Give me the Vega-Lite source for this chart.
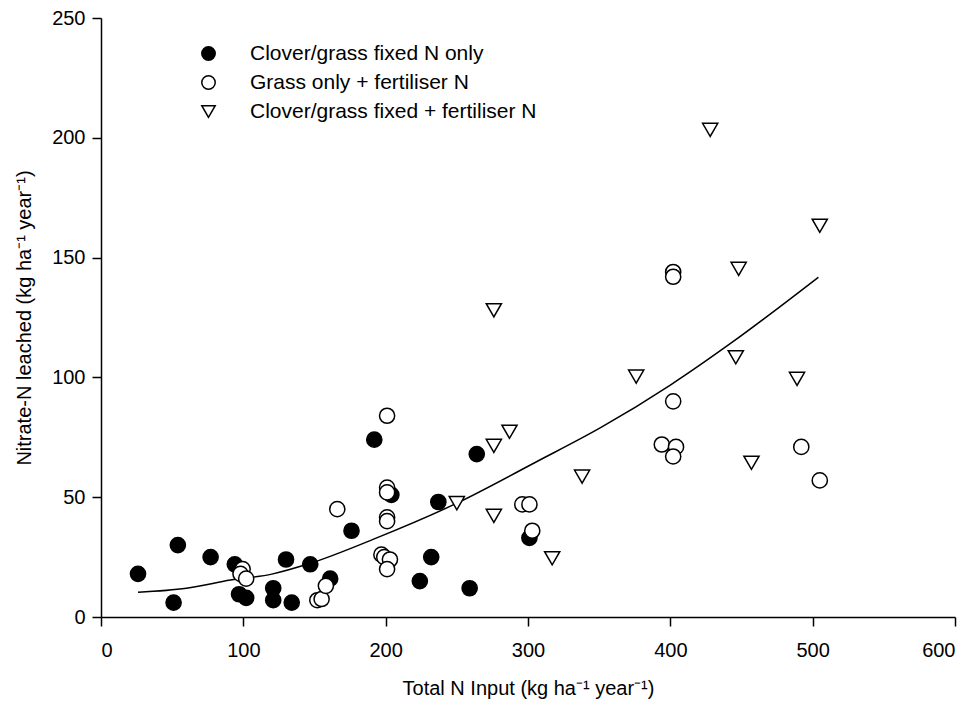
{
  "$schema": "https://vega.github.io/schema/vega-lite/v6.json",
  "width": 854,
  "height": 599,
  "autosize": "none",
  "padding": {"left": 101, "top": 18, "right": 21, "bottom": 88},
  "background": "white",
  "config": {
    "view": {"stroke": null},
    "font": "Liberation Sans",
    "axis": {
      "grid": false,
      "domainColor": "black",
      "domainWidth": 1.5,
      "tickColor": "black",
      "tickWidth": 1.5,
      "tickSize": 9,
      "labelFont": "Liberation Sans",
      "labelFontSize": 20,
      "labelColor": "black",
      "titleFont": "Liberation Sans",
      "titleFontSize": 20,
      "titleFontWeight": "normal",
      "titleColor": "black"
    },
    "legend": {
      "orient": "none",
      "legendX": 97,
      "legendY": 25,
      "padding": 0,
      "labelFont": "Liberation Sans",
      "labelFontSize": 21,
      "labelColor": "black",
      "labelOffset": 31,
      "rowPadding": 7,
      "symbolSize": 180,
      "symbolStrokeWidth": 1.5,
      "labelLimit": 500
    }
  },
  "datasets": {
    "points": [
      {"input": 26, "leached": 18, "group": "Clover/grass fixed N only"},
      {"input": 51, "leached": 6, "group": "Clover/grass fixed N only"},
      {"input": 54, "leached": 30, "group": "Clover/grass fixed N only"},
      {"input": 77, "leached": 25, "group": "Clover/grass fixed N only"},
      {"input": 94, "leached": 22, "group": "Clover/grass fixed N only"},
      {"input": 97, "leached": 9.5, "group": "Clover/grass fixed N only"},
      {"input": 102, "leached": 8, "group": "Clover/grass fixed N only"},
      {"input": 121, "leached": 12, "group": "Clover/grass fixed N only"},
      {"input": 121, "leached": 7, "group": "Clover/grass fixed N only"},
      {"input": 130, "leached": 24, "group": "Clover/grass fixed N only"},
      {"input": 134, "leached": 6, "group": "Clover/grass fixed N only"},
      {"input": 147, "leached": 22, "group": "Clover/grass fixed N only"},
      {"input": 161, "leached": 16, "group": "Clover/grass fixed N only"},
      {"input": 176, "leached": 36, "group": "Clover/grass fixed N only"},
      {"input": 192, "leached": 74, "group": "Clover/grass fixed N only"},
      {"input": 204, "leached": 51, "group": "Clover/grass fixed N only"},
      {"input": 224, "leached": 15, "group": "Clover/grass fixed N only"},
      {"input": 232, "leached": 25, "group": "Clover/grass fixed N only"},
      {"input": 237, "leached": 48, "group": "Clover/grass fixed N only"},
      {"input": 259, "leached": 12, "group": "Clover/grass fixed N only"},
      {"input": 264, "leached": 68, "group": "Clover/grass fixed N only"},
      {"input": 301, "leached": 33, "group": "Clover/grass fixed N only"},
      {"input": 99.5, "leached": 20, "group": "Grass only + fertiliser N"},
      {"input": 98, "leached": 18, "group": "Grass only + fertiliser N"},
      {"input": 102, "leached": 16, "group": "Grass only + fertiliser N"},
      {"input": 152, "leached": 7, "group": "Grass only + fertiliser N"},
      {"input": 155, "leached": 7.5, "group": "Grass only + fertiliser N"},
      {"input": 158, "leached": 13, "group": "Grass only + fertiliser N"},
      {"input": 166, "leached": 45, "group": "Grass only + fertiliser N"},
      {"input": 197, "leached": 26, "group": "Grass only + fertiliser N"},
      {"input": 199, "leached": 25, "group": "Grass only + fertiliser N"},
      {"input": 203, "leached": 24, "group": "Grass only + fertiliser N"},
      {"input": 201, "leached": 20, "group": "Grass only + fertiliser N"},
      {"input": 201, "leached": 41.6, "group": "Grass only + fertiliser N"},
      {"input": 201, "leached": 40, "group": "Grass only + fertiliser N"},
      {"input": 201, "leached": 54, "group": "Grass only + fertiliser N"},
      {"input": 201, "leached": 52, "group": "Grass only + fertiliser N"},
      {"input": 201, "leached": 84, "group": "Grass only + fertiliser N"},
      {"input": 296, "leached": 47, "group": "Grass only + fertiliser N"},
      {"input": 301, "leached": 47, "group": "Grass only + fertiliser N"},
      {"input": 303, "leached": 36, "group": "Grass only + fertiliser N"},
      {"input": 394, "leached": 72, "group": "Grass only + fertiliser N"},
      {"input": 404, "leached": 71, "group": "Grass only + fertiliser N"},
      {"input": 402, "leached": 67, "group": "Grass only + fertiliser N"},
      {"input": 402, "leached": 90, "group": "Grass only + fertiliser N"},
      {"input": 402, "leached": 144, "group": "Grass only + fertiliser N"},
      {"input": 402, "leached": 142, "group": "Grass only + fertiliser N"},
      {"input": 492, "leached": 71, "group": "Grass only + fertiliser N"},
      {"input": 505, "leached": 57, "group": "Grass only + fertiliser N"},
      {"input": 250, "leached": 47.5, "group": "Clover/grass fixed + fertiliser N"},
      {"input": 276, "leached": 128, "group": "Clover/grass fixed + fertiliser N"},
      {"input": 276, "leached": 71.4, "group": "Clover/grass fixed + fertiliser N"},
      {"input": 276, "leached": 42.2, "group": "Clover/grass fixed + fertiliser N"},
      {"input": 287, "leached": 77.3, "group": "Clover/grass fixed + fertiliser N"},
      {"input": 317, "leached": 24.5, "group": "Clover/grass fixed + fertiliser N"},
      {"input": 338, "leached": 58.6, "group": "Clover/grass fixed + fertiliser N"},
      {"input": 376, "leached": 100.3, "group": "Clover/grass fixed + fertiliser N"},
      {"input": 428, "leached": 203.3, "group": "Clover/grass fixed + fertiliser N"},
      {"input": 446, "leached": 108.4, "group": "Clover/grass fixed + fertiliser N"},
      {"input": 448, "leached": 145.3, "group": "Clover/grass fixed + fertiliser N"},
      {"input": 457, "leached": 64.4, "group": "Clover/grass fixed + fertiliser N"},
      {"input": 489, "leached": 99.4, "group": "Clover/grass fixed + fertiliser N"},
      {"input": 505, "leached": 163.3, "group": "Clover/grass fixed + fertiliser N"}
    ],
    "curve": [
      {"input": 26, "leached": 10.3},
      {"input": 60, "leached": 12.0},
      {"input": 91, "leached": 15.4},
      {"input": 120, "leached": 17.9},
      {"input": 147, "leached": 22.4},
      {"input": 192, "leached": 32.6},
      {"input": 250, "leached": 47.5},
      {"input": 306, "leached": 64.8},
      {"input": 351, "leached": 79},
      {"input": 400, "leached": 96.8},
      {"input": 444, "leached": 114.9},
      {"input": 504, "leached": 141.8}
    ]
  },
  "encoding": {
    "x": {
      "field": "input",
      "type": "quantitative",
      "scale": {"domain": [0, 600], "nice": false, "zero": true},
      "axis": {
        "title": "Total N Input (kg ha⁻¹ year⁻¹)",
        "values": [0, 100, 200, 300, 400, 500, 600],
        "labelPadding": 14,
        "titlePadding": 18
      }
    },
    "y": {
      "field": "leached",
      "type": "quantitative",
      "scale": {"domain": [0, 250], "nice": false},
      "axis": {
        "title": "Nitrate-N leached (kg ha⁻¹ year⁻¹)",
        "values": [0, 50, 100, 150, 200, 250],
        "labelPadding": 7,
        "titlePadding": 17
      }
    }
  },
  "layer": [
    {
      "data": {"name": "curve"},
      "mark": {"type": "line", "interpolate": "monotone", "color": "black", "strokeWidth": 1.5},
      "encoding": {}
    },
    {
      "data": {"name": "points"},
      "mark": {"type": "point", "strokeWidth": 1.5, "size": 230, "opacity": 1},
      "encoding": {
        "shape": {
          "field": "group",
          "type": "nominal",
          "sort": null,
          "scale": {
            "domain": ["Clover/grass fixed N only", "Grass only + fertiliser N", "Clover/grass fixed + fertiliser N"],
            "range": ["circle", "circle", "triangle-down"]
          },
          "legend": {"title": null}
        },
        "fill": {
          "field": "group",
          "type": "nominal",
          "sort": null,
          "scale": {
            "domain": ["Clover/grass fixed N only", "Grass only + fertiliser N", "Clover/grass fixed + fertiliser N"],
            "range": ["black", "white", "white"]
          },
          "legend": {"title": null}
        },
        "stroke": {
          "field": "group",
          "type": "nominal",
          "sort": null,
          "scale": {
            "domain": ["Clover/grass fixed N only", "Grass only + fertiliser N", "Clover/grass fixed + fertiliser N"],
            "range": ["black", "black", "black"]
          },
          "legend": {"title": null}
        }
      }
    }
  ]
}
